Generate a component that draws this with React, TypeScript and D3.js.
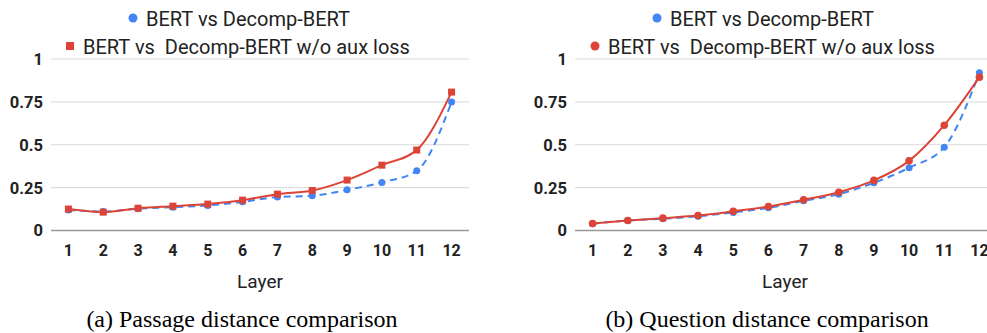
import React, { useEffect, useRef } from 'react';
import * as d3 from 'd3';

const layers = ['1', '2', '3', '4', '5', '6', '7', '8', '9', '10', '11', '12'];
const yTicks = [0, 0.25, 0.5, 0.75, 1];
const yTickLabels = ['0', '0.25', '0.5', '0.75', '1'];

const passageBert = [0.119, 0.111, 0.127, 0.136, 0.146, 0.167, 0.195, 0.202, 0.237, 0.28, 0.348, 0.749];
const passageNoAux = [0.125, 0.107, 0.13, 0.142, 0.154, 0.177, 0.212, 0.233, 0.294, 0.381, 0.469, 0.807];
const questionBert = [0.04, 0.058, 0.068, 0.083, 0.105, 0.132, 0.173, 0.212, 0.278, 0.366, 0.486, 0.92];
const questionNoAux = [0.041, 0.058, 0.072, 0.087, 0.112, 0.14, 0.179, 0.223, 0.292, 0.406, 0.614, 0.894];

const seriesNames = ['BERT vs Decomp-BERT', 'BERT vs  Decomp-BERT w/o aux loss'];

const BLUE = '#4285f4';
const RED = '#db4437';

type PanelOpts = {
  plotLeft: number;
  plotRight: number;
  labelRight: number;
  blue: number[];
  red: number[];
  redMarker: 'square' | 'circle';
  legend1X: number;
  legend2X: number;
  layerX: number;
  caption: string;
  captionX: number;
};

const panels: PanelOpts[] = [
  {
    plotLeft: 51, plotRight: 469, labelRight: 43,
    blue: passageBert, red: passageNoAux, redMarker: 'square',
    legend1X: 133, legend2X: 70, layerX: 260,
    caption: '(a) Passage distance comparison', captionX: 242,
  },
  {
    plotLeft: 575, plotRight: 997, labelRight: 567,
    blue: questionBert, red: questionNoAux, redMarker: 'circle',
    legend1X: 657, legend2X: 595, layerX: 785,
    caption: '(b) Question distance comparison', captionX: 767,
  },
];

const App = () => {
  const ref = useRef<SVGSVGElement>(null);

  useEffect(() => {
    const svg = d3.select(ref.current);
    svg.selectAll('*').remove();

    const y = d3.scaleLinear().domain([0, 1]).range([230.5, 59]);
    const sans = 'Roboto, Arial, sans-serif';

    panels.forEach((p) => {
      const g = svg.append('g');
      const x = d3.scalePoint<string>().domain(layers).range([p.plotLeft, p.plotRight]).padding(0.5);

      // gridlines
      g.selectAll('.grid')
        .data(yTicks)
        .enter()
        .append('line')
        .attr('x1', p.plotLeft)
        .attr('x2', p.plotRight)
        .attr('y1', (d) => y(d))
        .attr('y2', (d) => y(d))
        .attr('stroke', (d) => (d === 0 ? '#999' : '#d9d9d9'))
        .attr('stroke-width', (d) => (d === 0 ? 1.5 : 1));

      // y labels
      g.selectAll('.ylab')
        .data(yTicks)
        .enter()
        .append('text')
        .attr('x', p.labelRight)
        .attr('y', (d) => y(d))
        .attr('dy', '0.36em')
        .attr('text-anchor', 'end')
        .style('font-family', sans)
        .style('font-weight', 'bold')
        .style('font-size', '16.5px')
        .style('fill', '#222')
        .text((_, i) => yTickLabels[i]);

      // x labels
      g.selectAll('.xlab')
        .data(layers)
        .enter()
        .append('text')
        .attr('x', (d) => x(d) as number)
        .attr('y', 256)
        .attr('text-anchor', 'middle')
        .style('font-family', sans)
        .style('font-weight', 'bold')
        .style('font-size', '16px')
        .style('fill', '#222')
        .text((d) => d);

      g.append('text')
        .attr('x', p.layerX)
        .attr('y', 288)
        .attr('text-anchor', 'middle')
        .style('font-family', sans)
        .style('font-size', '19px')
        .style('fill', '#222')
        .text('Layer');

      const line = d3
        .line<number>()
        .x((_, i) => x(layers[i]) as number)
        .y((d) => y(d))
        .curve(d3.curveMonotoneX);

      g.append('path')
        .attr('d', line(p.blue))
        .attr('fill', 'none')
        .attr('stroke', BLUE)
        .attr('stroke-width', 2)
        .attr('stroke-dasharray', '7,5');

      g.append('path')
        .attr('d', line(p.red))
        .attr('fill', 'none')
        .attr('stroke', RED)
        .attr('stroke-width', 2);

      g.selectAll('.bpt')
        .data(p.blue)
        .enter()
        .append('circle')
        .attr('cx', (_, i) => x(layers[i]) as number)
        .attr('cy', (d) => y(d))
        .attr('r', 3.5)
        .attr('fill', BLUE);

      if (p.redMarker === 'square') {
        g.selectAll('.rpt')
          .data(p.red)
          .enter()
          .append('rect')
          .attr('x', (_, i) => (x(layers[i]) as number) - 3.5)
          .attr('y', (d) => y(d) - 3.5)
          .attr('width', 7)
          .attr('height', 7)
          .attr('fill', RED);
      } else {
        g.selectAll('.rpt')
          .data(p.red)
          .enter()
          .append('circle')
          .attr('cx', (_, i) => x(layers[i]) as number)
          .attr('cy', (d) => y(d))
          .attr('r', 3.8)
          .attr('fill', RED);
      }

      // legend
      g.append('circle').attr('cx', p.legend1X).attr('cy', 18).attr('r', 4.5).attr('fill', BLUE);
      g.append('text')
        .attr('x', p.legend1X + 13)
        .attr('y', 25.5)
        .style('font-family', sans)
        .style('font-size', '20px')
        .style('fill', '#222')
        .text(seriesNames[0]);

      if (p.redMarker === 'square') {
        g.append('rect').attr('x', p.legend2X - 4).attr('y', 42).attr('width', 8).attr('height', 8).attr('fill', RED);
      } else {
        g.append('circle').attr('cx', p.legend2X).attr('cy', 46).attr('r', 4.5).attr('fill', RED);
      }
      g.append('text')
        .attr('x', p.legend2X + 13)
        .attr('y', 54)
        .attr('xml:space', 'preserve')
        .style('white-space', 'pre')
        .style('font-family', sans)
        .style('font-size', '20px')
        .style('fill', '#222')
        .text(seriesNames[1]);

      svg.append('text')
        .attr('x', p.captionX)
        .attr('y', 327)
        .attr('text-anchor', 'middle')
        .style('font-family', '"Liberation Serif", "Times New Roman", serif')
        .style('font-size', '24px')
        .style('fill', '#000')
        .text(p.caption);
    });
  }, []);

  return (
    <svg
      ref={ref}
      width={987}
      height={333}
      style={{ position: 'absolute', left: 0, top: 0, background: '#fff' }}
    />
  );
};

export default App;
